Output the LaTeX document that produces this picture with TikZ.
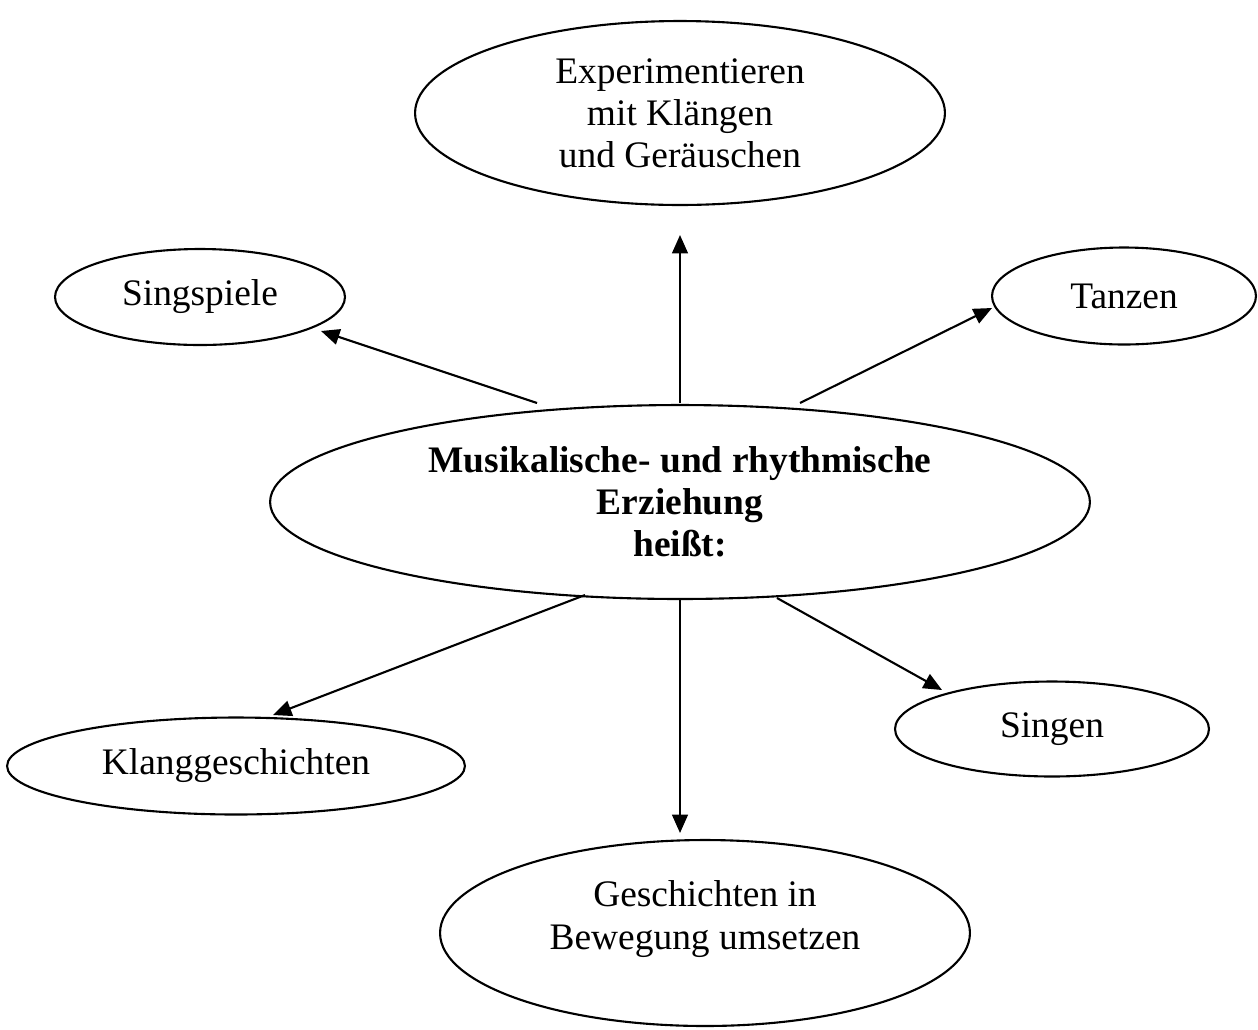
\documentclass[tikz,border=0pt]{standalone}
\usepackage{fontspec}
\setmainfont{Liberation Serif}
\usetikzlibrary{shapes.geometric,arrows.meta}

\begin{document}
\begin{tikzpicture}[x=0.02cm, y=-0.02cm, >={Triangle[length=10.5pt,width=9pt]}, line width=1.2pt,
	oval/.style={draw, ellipse, inner sep=0pt, align=center, font=\fontsize{21.3}{24}\selectfont},
	txt/.style={align=center, inner sep=0pt, font=\fontsize{21.3}{24}\selectfont}]
	\useasboundingbox (0,0) rectangle (1258,1029);
	% Mitte
	\node[oval, minimum width=16.4cm, minimum height=3.88cm, font=\fontsize{21.3}{24}\selectfont\bfseries] (Mitte) at (680,502)
		{Musikalische- und rhythmische\\Erziehung\\heißt:};
	% Ringsum
	\node[oval, minimum width=10.6cm, minimum height=3.68cm] (Exp) at (680,113)
		{Experimentieren\\mit Klängen\\und Geräuschen};
	\node[oval, minimum width=5.8cm, minimum height=1.92cm] (Singsp) at (200,297) {Singspiele};
	\node[oval, minimum width=5.28cm, minimum height=1.94cm] (Tanz) at (1124,296) {Tanzen};
	\node[oval, minimum width=9.16cm, minimum height=1.94cm] (Klang) at (236,766) {Klanggeschichten};
	\node[oval, minimum width=6.28cm, minimum height=1.9cm] (Singen) at (1052,729) {Singen};
	\node[oval, minimum width=10.6cm, minimum height=3.72cm] (Gesch) at (705,933) {};
	\node[txt] (GeschText) at (705,919) {Geschichten in\\Bewegung umsetzen};
	% Pfeilenden
	\coordinate (MitteN) at (680,403);
	\coordinate (MitteNW) at (537,403);
	\coordinate (MitteNO) at (800,403);
	\coordinate (MitteS) at (680,598);
	\coordinate (MitteSW) at (585,595);
	\coordinate (MitteSO) at (777,598);
	\coordinate (ExpS) at (680,235);
	\coordinate (SingspSO) at (321,331);
	\coordinate (TanzW) at (992,308);
	\coordinate (GeschN) at (680,833);
	\coordinate (KlangN) at (273,715);
	\coordinate (SingenNW) at (942,690);
	% Pfeile
	\draw[->] (MitteN) -- (ExpS);
	\draw[->] (MitteNW) -- (SingspSO);
	\draw[->] (MitteNO) -- (TanzW);
	\draw[->] (MitteS) -- (GeschN);
	\draw[->] (MitteSW) -- (KlangN);
	\draw[->] (MitteSO) -- (SingenNW);
\end{tikzpicture}
\end{document}
